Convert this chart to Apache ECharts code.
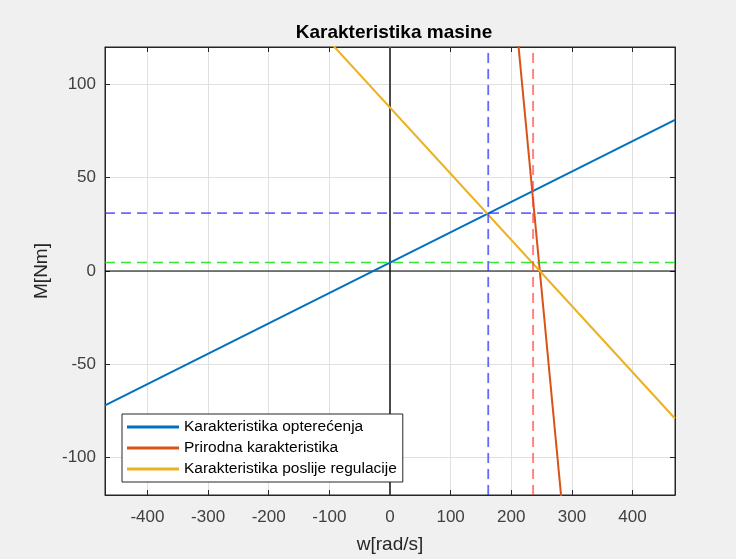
<!DOCTYPE html>
<html>
<head>
<meta charset="utf-8">
<script src="https://cdn.jsdelivr.net/npm/echarts@6/dist/echarts.min.js"></script>
<style>
  html, body { margin: 0; padding: 0; background: #f0f0f0; }
  #chart { width: 736px; height: 559px; }
</style>
</head>
<body>
<div id="chart"></div>
<script>
  // axis limits
  const wLimits = [-470, 470];
  const mLimits = [-120, 120];

  // Karakteristika opterecenja (load line)
  const loadW = [-470, 470];
  const loadM = [-72, 81];
  // Prirodna karakteristika
  const naturalW = [210.6, 283.5];
  const naturalM = [125, -125];
  // Karakteristika poslije regulacije
  const regulW = [-100, 470];
  const regulM = [123, -79];

  // helper lines
  const opW = 162;        // blue dashed vertical
  const opM = 31;         // blue dashed horizontal
  const naturalOpW = 236; // red dashed vertical
  const idleM = 4.5;      // green dashed horizontal

  const names = ['Karakteristika opterećenja', 'Prirodna karakteristika', 'Karakteristika poslije regulacije'];
  const colors = ['#0072BD', '#D95319', '#EDB120'];

  const pairs = (xs, ys) => xs.map((x, i) => [x, ys[i]]);

  const myChart = echarts.init(document.getElementById('chart'));

  const refLine = (data, color, width, type, z) => ({
    type: 'line',
    data: data,
    symbol: 'none',
    silent: true,
    z: z,
    lineStyle: { color: color, width: width, type: type },
    legendHoverLink: false
  });

  const tickStyle = { inside: true, length: 5, lineStyle: { color: '#262626' } };
  const labelFont = { fontFamily: 'Liberation Sans', fontSize: 17, color: '#404040' };

  let option = {
    backgroundColor: '#f0f0f0',
    animation: false,
    title: {
      text: 'Karakteristika masine',
      left: 389,
      textAlign: 'center',
      top: 18,
      textStyle: { fontFamily: 'Liberation Sans', fontSize: 19, fontWeight: 'bold', color: '#000' }
    },
    legend: {
      orient: 'vertical',
      left: 122,
      top: 414,
      data: names,
      icon: 'rect',
      itemWidth: 52,
      itemHeight: 3,
      itemGap: 5,
      padding: [5, 6, 5, 5],
      backgroundColor: '#fff',
      borderColor: '#262626',
      borderWidth: 1,
      borderRadius: 0,
      selectedMode: false,
      textStyle: { fontFamily: 'Liberation Sans', fontSize: 15.5, color: '#000' }
    },
    grid: {
      left: 105,
      right: 61,
      top: 47,
      bottom: 61,
      show: true,
      backgroundColor: '#fff',
      borderColor: '#262626',
      borderWidth: 1
    },
    xAxis: [{
      type: 'value',
      min: wLimits[0],
      max: wLimits[1],
      splitNumber: 10,
      name: 'w[rad/s]',
      nameLocation: 'middle',
      nameGap: 40,
      nameTextStyle: { fontFamily: 'Liberation Sans', fontSize: 19, color: '#262626' },
      axisLine: { onZero: false, lineStyle: { color: '#262626' } },
      axisTick: tickStyle,
      axisLabel: Object.assign({ showMinLabel: false, showMaxLabel: false, margin: 14 }, labelFont),
      splitLine: { show: true, lineStyle: { color: '#e0e0e0', width: 1 } }
    }, {
      type: 'value',
      position: 'top',
      min: wLimits[0],
      max: wLimits[1],
      splitNumber: 10,
      axisLine: { onZero: false, lineStyle: { color: '#262626' } },
      axisTick: tickStyle,
      axisLabel: { show: false },
      splitLine: { show: false }
    }],
    yAxis: [{
      type: 'value',
      min: mLimits[0],
      max: mLimits[1],
      splitNumber: 5,
      name: 'M[Nm]',
      nameLocation: 'middle',
      nameGap: 42,
      nameTextStyle: { fontFamily: 'Liberation Sans', fontSize: 19, color: '#262626' },
      axisLine: { show: true, onZero: false, lineStyle: { color: '#262626' } },
      axisTick: tickStyle,
      axisLabel: Object.assign({ showMinLabel: false, showMaxLabel: false, margin: 9 }, labelFont),
      splitLine: { show: true, lineStyle: { color: '#e0e0e0', width: 1 } }
    }, {
      type: 'value',
      position: 'right',
      min: mLimits[0],
      max: mLimits[1],
      splitNumber: 5,
      axisLine: { show: true, onZero: false, lineStyle: { color: '#262626' } },
      axisTick: tickStyle,
      axisLabel: { show: false },
      splitLine: { show: false }
    }],
    series: [
      // zero axes
      refLine([[0, mLimits[0]], [0, mLimits[1]]], '#4a4a4a', 2, 'solid', 1),
      refLine([[wLimits[0], 0], [wLimits[1], 0]], '#000', 1, 'solid', 1),
      {
        name: names[0],
        type: 'line',
        data: pairs(loadW, loadM),
        symbol: 'none',
        z: 3,
        lineStyle: { color: colors[0], width: 2 },
        itemStyle: { color: colors[0] }
      },
      {
        name: names[1],
        type: 'line',
        data: pairs(naturalW, naturalM),
        symbol: 'none',
        z: 3,
        lineStyle: { color: colors[1], width: 2 },
        itemStyle: { color: colors[1] }
      },
      {
        name: names[2],
        type: 'line',
        data: pairs(regulW, regulM),
        symbol: 'none',
        z: 3,
        lineStyle: { color: colors[2], width: 2 },
        itemStyle: { color: colors[2] }
      },
      // dashed helper lines
      refLine([[opW, mLimits[0]], [opW, mLimits[1]]], 'rgba(40,40,255,0.7)', 1.8, [10, 6], 4),
      refLine([[wLimits[0], opM], [wLimits[1], opM]], 'rgba(40,40,255,0.7)', 1.8, [10, 6], 4),
      refLine([[naturalOpW, mLimits[0]], [naturalOpW, mLimits[1]]], 'rgba(255,50,50,0.6)', 2, [10, 6], 4),
      refLine([[wLimits[0], idleM], [wLimits[1], idleM]], 'rgba(20,225,20,0.85)', 1.5, [10, 6], 4)
    ]
  };

  myChart.setOption(option);
</script>
</body>
</html>
